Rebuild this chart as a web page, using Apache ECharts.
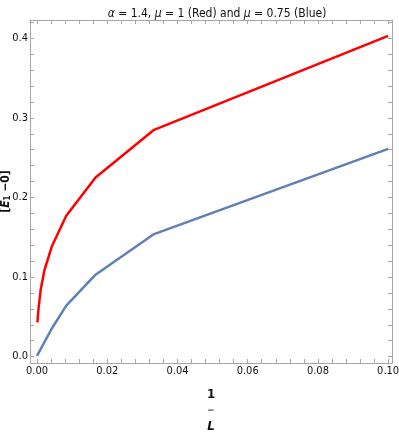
<!DOCTYPE html>
<html>
<head>
<meta charset="utf-8">
<script src="https://cdn.jsdelivr.net/npm/echarts@6/dist/echarts.min.js"></script>
<style>
  html, body { margin: 0; padding: 0; background: #fff; }
  #chart { width: 399px; height: 436px; }
</style>
</head>
<body>
<div id="chart"></div>
<script>
// values (x = 1/L)
const redX = [0.00013, 0.00026, 0.00052, 0.00104, 0.00208, 0.00417, 0.00833, 0.01667, 0.03333, 0.1];
const redY = [0.043, 0.052, 0.064, 0.084, 0.108, 0.138, 0.177, 0.225, 0.285, 0.403];
const blueX = [0, 0.00417, 0.00833, 0.01667, 0.03333, 0.1];
const blueY = [0.001, 0.035, 0.064, 0.103, 0.154, 0.261];

// tick positions
const xMajor = [0, 0.02, 0.04, 0.06, 0.08, 0.1];
const xAllTicks = [0, 0.004, 0.008, 0.012, 0.016, 0.02, 0.024, 0.028, 0.032, 0.036, 0.04,
  0.044, 0.048, 0.052, 0.056, 0.06, 0.064, 0.068, 0.072, 0.076, 0.08,
  0.084, 0.088, 0.092, 0.096, 0.1];
const yMajor = [0, 0.1, 0.2, 0.3, 0.4];
const yAllTicks = [0, 0.02, 0.04, 0.06, 0.08, 0.1, 0.12, 0.14, 0.16, 0.18, 0.2,
  0.22, 0.24, 0.26, 0.28, 0.3, 0.32, 0.34, 0.36, 0.38, 0.4, 0.42];

const font = '"DejaVu Sans Condensed", "Liberation Sans", sans-serif';
const frameColor = '#a6a6a6';
const textColor = '#111';

const chart = echarts.init(document.getElementById('chart'));

function frameAxis(pos, min, max, labels, fmt) {
  return {
    type: 'value',
    position: pos,
    min: min,
    max: max,
    splitLine: { show: false },
    axisLine: { show: true, onZero: false, lineStyle: { color: frameColor, width: 1 } },
    axisTick: { show: true, inside: true, length: 4, customValues: pos === 'bottom' || pos === 'top' ? xAllTicks : yAllTicks,
      lineStyle: { color: frameColor } },
    axisLabel: labels
      ? { show: true, customValues: labels, formatter: fmt, fontFamily: font, fontSize: 11, color: textColor, margin: pos === 'left' ? 2 : 3 }
      : { show: false }
  };
}

const xMain = frameAxis('bottom', -0.002, 0.1011, xMajor, (v) => v.toFixed(2));
xMain.name = '{a|1}\n{b|\u2014}\n{c|L}';
xMain.nameLocation = 'middle';
xMain.nameGap = 24;
xMain.nameMoveOverlap = false;
xMain.nameTextStyle = {
  rich: {
    a: { fontFamily: font, fontSize: 13, fontWeight: 'bold', color: textColor, lineHeight: 16 },
    b: { fontFamily: font, fontSize: 7, fontWeight: 'bold', color: textColor, lineHeight: 14 },
    c: { fontFamily: font, fontSize: 13, fontWeight: 'bold', fontStyle: 'italic', color: textColor, lineHeight: 20 }
  }
};

const yMain = frameAxis('left', -0.008, 0.423, yMajor, (v) => v.toFixed(1));
yMain.name = '{t|[}{e|E}{s|1}{t| \u22120]}';
yMain.nameLocation = 'middle';
yMain.nameRotate = 90;
yMain.nameGap = 18;
yMain.nameMoveOverlap = false;
yMain.nameTextStyle = {
  rich: {
    t: { fontFamily: font, fontSize: 12, fontWeight: 'bold', color: textColor, lineHeight: 12 },
    e: { fontFamily: font, fontSize: 12, fontWeight: 'bold', fontStyle: 'italic', color: textColor, lineHeight: 12 },
    s: { fontFamily: font, fontSize: 8, fontWeight: 'bold', color: textColor, lineHeight: 12, padding: [4, 0, 0, 0] }
  }
};

const option = {
  animation: false,
  backgroundColor: '#fff',
  title: {
    text: '{i|\u03b1} = 1.4, {i|\u03bc} = 1 (Red) and {i|\u03bc} = 0.75 (Blue)',
    left: 212,
    textAlign: 'center',
    top: 3,
    textStyle: {
      fontFamily: font, fontSize: 12, fontWeight: 'normal', color: textColor,
      rich: { i: { fontFamily: font, fontSize: 12, fontStyle: 'italic', color: textColor } }
    }
  },
  grid: { left: 30, right: 7, top: 20, bottom: 73, containLabel: false, outerBoundsMode: 'none' },
  xAxis: [xMain, frameAxis('top', -0.002, 0.1011, null)],
  yAxis: [yMain, frameAxis('right', -0.008, 0.423, null)],
  series: [
    {
      type: 'line',
      name: 'mu=1',
      showSymbol: false,
      data: redX.map((x, i) => [x, redY[i]]),
      lineStyle: { color: '#ff0000', width: 2.5 },
      itemStyle: { color: '#ff0000' }
    },
    {
      type: 'line',
      name: 'mu=0.75',
      showSymbol: false,
      data: blueX.map((x, i) => [x, blueY[i]]),
      lineStyle: { color: '#5e81b5', width: 2.5 },
      itemStyle: { color: '#5e81b5' }
    }
  ]
};
chart.setOption(option);
</script>
</body>
</html>
